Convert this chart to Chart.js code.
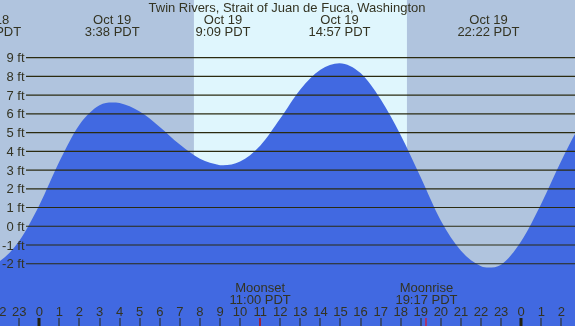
<!DOCTYPE html>
<html>
<head>
<meta charset="utf-8">
<script src="https://cdn.jsdelivr.net/npm/chart.js@4/dist/chart.umd.min.js"></script>
<style>
html,body{margin:0;padding:0;background:#b0c4de;}
canvas{display:block;}
</style>
</head>
<body>
<canvas id="c" width="575" height="326"></canvas>
<script>
// ---- data (hours relative to midnight Oct 19, PDT; heights in ft) ----
const times   = [-3, -2.45, -2, -1, 0, 1, 2, 3, 3.63, 4, 5, 6, 7, 8, 9, 9.15, 10, 11, 12, 13, 14, 14.95, 16, 17, 18, 19, 20, 21, 22, 22.37, 23, 24, 25, 26, 27, 28];
const heights = [-1.95, -2.0, -1.88, -0.78, 1.12, 3.45, 5.42, 6.45, 6.6, 6.57, 6.12, 5.3, 4.36, 3.6, 3.26, 3.25, 3.45, 4.3, 5.75, 7.3, 8.35, 8.7, 8.17, 6.77, 4.85, 2.6, 0.3, -1.3, -2.13, -2.2, -2.05, -0.8, 1.2, 3.5, 5.5, 6.8];

const title = 'Twin Rivers, Strait of Juan de Fuca, Washington';
const tideTimes  = [-2.45, 3.63, 9.15, 14.95, 22.37];
const tideDates  = ['Oct 18', 'Oct 19', 'Oct 19', 'Oct 19', 'Oct 19'];
const tideClocks = ['21:33 PDT', '3:38 PDT', '9:09 PDT', '14:57 PDT', '22:22 PDT'];

const ftTicks  = [9, 8, 7, 6, 5, 4, 3, 2, 1, 0, -1, -2];
const ftLabels = ['9 ft', '8 ft', '7 ft', '6 ft', '5 ft', '4 ft', '3 ft', '2 ft', '1 ft', '0 ft', '-1 ft', '-2 ft'];

const hourTicks  = [-2,-1,0,1,2,3,4,5,6,7,8,9,10,11,12,13,14,15,16,17,18,19,20,21,22,23,24,25,26];
const hourLabels = ['22','23','0','1','2','3','4','5','6','7','8','9','10','11','12','13','14','15','16','17','18','19','20','21','22','23','0','1','2'];
const midnights  = [0, 24];

const sunrise = 7.70, sunset = 18.31;
const moonTimes  = [11.0, 19.283];
const moonNames  = ['Moonset', 'Moonrise'];
const moonClocks = ['11:00 PDT', '19:17 PDT'];

const X_MIN = -1.957, X_MAX = 26.68, Y_MIN = -5.32, Y_MAX = 12.07;

const NIGHT = '#b0c4de', DAY = '#dff6fd', WATER = '#4169e1';
const INK = '#333322', LINE = '#2b2b10';
const FONT = '13px "Liberation Sans", Arial, sans-serif';

const decor = {
  id: 'decor',
  beforeDatasetsDraw(chart) {
    const {ctx, chartArea: a, scales: {x}} = chart;
    ctx.save();
    ctx.fillStyle = NIGHT;
    ctx.fillRect(a.left, a.top, a.right - a.left, a.bottom - a.top);
    const x1 = x.getPixelForValue(sunrise), x2 = x.getPixelForValue(sunset);
    ctx.fillStyle = DAY;
    ctx.fillRect(x1, a.top, x2 - x1, a.bottom - a.top);
    ctx.restore();
  },
  afterDatasetsDraw(chart) {
    const {ctx, chartArea: a, scales: {x, y}} = chart;
    ctx.save();
    ctx.font = FONT;
    ctx.fillStyle = INK;
    // horizontal lines + ft labels
    ctx.strokeStyle = LINE;
    ctx.lineWidth = 1.2;
    ftTicks.forEach((v, i) => {
      const py = y.getPixelForValue(v);
      ctx.beginPath();
      ctx.moveTo(26, py);
      ctx.lineTo(a.right, py);
      ctx.stroke();
      ctx.textAlign = 'right';
      ctx.textBaseline = 'alphabetic';
      ctx.fillText(ftLabels[i], 24.5, py + 4.6);
    });
    // title
    ctx.textAlign = 'center';
    ctx.fillText(title, 287, 12);
    // tide labels
    tideTimes.forEach((t, i) => {
      const px = x.getPixelForValue(t);
      ctx.fillText(tideDates[i], px, 24);
      ctx.fillText(tideClocks[i], px, 36);
    });
    // hour labels and ticks
    hourTicks.forEach((h, i) => {
      const px = x.getPixelForValue(h);
      ctx.fillText(hourLabels[i], px, 316);
      ctx.fillStyle = LINE;
      ctx.fillRect(Math.round(px) - 0.5, 318, 1, 8);
      ctx.fillStyle = INK;
    });
    midnights.forEach(h => {
      const px = x.getPixelForValue(h);
      ctx.fillStyle = '#222211';
      ctx.fillRect(Math.round(px) - 1.5, 318, 3, 8);
    });
    // moon events
    moonTimes.forEach((t, i) => {
      const px = x.getPixelForValue(t);
      ctx.fillStyle = INK;
      ctx.fillText(moonNames[i], px, 292);
      ctx.fillText(moonClocks[i], px, 304);
      ctx.fillStyle = '#ff0000';
      ctx.fillRect(Math.round(px) - 0.5, 318, 1, 8);
    });
    ctx.restore();
  }
};

new Chart(document.getElementById('c'), {
  type: 'line',
  data: {
    datasets: [{
      data: times.map((t, i) => ({x: t, y: heights[i]})),
      fill: 'start',
      backgroundColor: WATER,
      borderWidth: 0,
      borderColor: WATER,
      pointRadius: 0,
      cubicInterpolationMode: 'monotone'
    }]
  },
  options: {
    responsive: false,
    animation: false,
    layout: {padding: 0},
    plugins: {legend: {display: false}, tooltip: {enabled: false}, title: {display: false}},
    scales: {
      x: {type: 'linear', display: false, min: X_MIN, max: X_MAX, bounds: 'data'},
      y: {type: 'linear', display: false, min: Y_MIN, max: Y_MAX, bounds: 'data'}
    }
  },
  plugins: [decor]
});
</script>
</body>
</html>
